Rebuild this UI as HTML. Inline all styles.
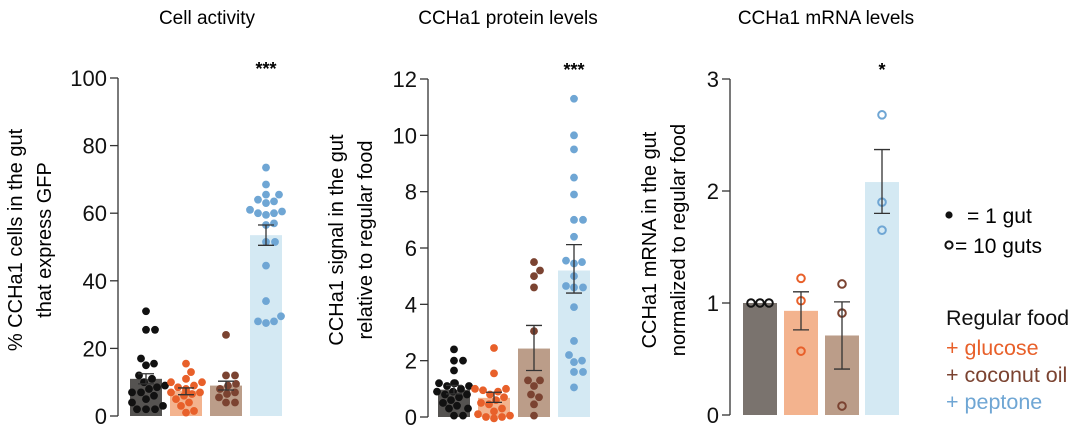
<!DOCTYPE html>
<html><head><meta charset="utf-8"><style>
html,body{margin:0;padding:0;background:#fff;}
svg{display:block;font-family:"Liberation Sans",Arial,sans-serif;}
</style></head><body>
<svg id="chart" width="1080" height="428" viewBox="0 0 1080 428">
<text x="207" y="24" font-size="19" text-anchor="middle">Cell activity</text>
<text x="508" y="24" font-size="19" text-anchor="middle">CCHa1 protein levels</text>
<text x="826" y="24" font-size="19" text-anchor="middle">CCHa1 mRNA levels</text>
<g>
<circle cx="949" cy="215" r="3.6" fill="#111"/>
<text x="967" y="223" font-size="21">= 1 gut</text>
<circle cx="949" cy="245" r="3.6" fill="none" stroke="#111" stroke-width="2"/>
<text x="955" y="253" font-size="21">= 10 guts</text>
<text x="946" y="325" font-size="21.5" fill="#111">Regular food</text>
<text x="946" y="355" font-size="21.5" fill="#e8602a">+ glucose</text>
<text x="946" y="382" font-size="21.5" fill="#7b4331">+ coconut oil</text>
<text x="946" y="409" font-size="21.5" fill="#6fa6d4">+ peptone</text>
</g>
</svg>
<script>
// Panel 1: Cell activity
const p1Ticks = [0,20,40,60,80,100];
const p1Means = [11,7.5,9,53.5];
const p1ErrLo = [9.5,6.3,7.7,50.5];
const p1ErrHi = [12.5,8.3,10.3,56.5];
const p1Pts0 = [31,25.5,25.5,17,15,15.5,12,11,10,9,8.5,8,7,7,6,5,4,3,2,2,2];
const p1Pts1 = [15.5,13,11,10,10,9,8.5,8,7.5,7,7,6.5,6,5,4,3,1,1.5];
const p1Pts2 = [24,12,12,9.5,9,8,7,6.5,5.5,4,4];
const p1Pts3 = [73.5,68.5,65.5,65.5,64,63,63.5,61,60.5,60,60,59.5,57,56.5,51.5,51.5,44.5,34,29.5,28,27.5,28];
const p1Sig = "***";
// Panel 2: protein levels
const p2Ticks = [0,2,4,6,8,10,12];
const p2Means = [0.97,0.68,2.43,5.2];
const p2ErrLo = [0.82,0.52,1.65,4.4];
const p2ErrHi = [1.12,0.88,3.25,6.12];
const p2Pts0 = [2.4,2,2,1.65,1.2,1.2,1.1,1.1,1,0.9,0.8,0.8,0.7,0.6,0.5,0.4,0.3,0.3,0.05,0.05,1.2,0.9];
const p2Pts1 = [2.45,1.55,1,1,0.95,0.9,0.8,0.7,0.6,0.5,0.45,0.3,0.2,0.1,0.05,0,0,-0.05];
const p2Pts2 = [5.5,5.2,5,4.6,3.05,1.3,1.3,1.1,0.8,0.7,0.45,0.05];
const p2Pts3 = [11.3,10,9.5,8.5,7.9,7,7,6.4,5.55,5.5,5.45,5,4.65,4.6,4.6,3.9,2.7,2.2,2,1.95,1.6,1.6,1.05];
const p2Sig = "***";
// Panel 3: mRNA levels
const p3Ticks = [0,1,2,3];
const p3Means = [1,0.93,0.71,2.08];
const p3ErrLo = [1,0.76,0.41,1.8];
const p3ErrHi = [1,1.1,1.01,2.37];
const p3Pts0 = [1,1,1];
const p3Pts1 = [1.22,1.02,0.57];
const p3Pts2 = [1.17,0.91,0.08];
const p3Pts3 = [2.68,1.9,1.65];
const p3Sig = "*";

const svg = document.getElementById('chart');
const NS = 'http://www.w3.org/2000/svg';
function mk(tag, attrs, parent){const e=document.createElementNS(NS,tag);for(const k in attrs)e.setAttribute(k,attrs[k]);(parent||svg).appendChild(e);return e;}

const barCols = ['#555351','#f3b38e','#bb9d89','#d4e9f3'];
const dotCols = ['#111111','#e8602a','#7b4331','#6fa6d4'];
const barNames = ['regular-food','glucose','coconut-oil','peptone'];

function panel(cfg){
  const {id,axisX,y0,y1,vmax,ticks,means,lo,hi,pts,barX,barW,sig,hollow,titleLines,titleX,grayFirst} = cfg;
  const g = mk('g',{});
  
  
  const Y = v => y0 - (v/vmax)*(y0-y1);
  means.forEach((m,i)=>{
    const r = mk('rect',{x:barX[i],y:Y(m),width:barW,height:y0-Y(m),fill:(i===0&&grayFirst)?'#7a736e':barCols[i]},g);
    
    
  });
  pts.forEach((arr,i)=>{
    const cx = barX[i]+barW/2;
    const placed=[];
    const rad = hollow?4:3.9;
    const sorted = arr.slice().sort((a,b)=>a-b);
    sorted.forEach(v=>{
      const cy=Y(v);
      let best=null;
      for(let s=0;s<40;s++){
        const off = (s%2?1:-1)*Math.ceil(s/2)*1.0;
        const x=cx+off;
        if(placed.every(p=>Math.hypot(p[0]-x,p[1]-cy)>=rad*2+0.3)){best=x;break;}
      }
      if(best===null)best=cx;
      placed.push([best,cy]);
      const c = hollow ? mk('circle',{cx:best,cy:cy,r:3.8,fill:'none',stroke:dotCols[i],'stroke-width':2},g)
                       : mk('circle',{cx:best,cy:cy,r:3.9,fill:dotCols[i]},g);
      
      
    });
  });
  means.forEach((m,i)=>{
    if(lo[i]===hi[i])return;
    const cx=barX[i]+barW/2;
    const e=mk('path',{d:`M${cx},${Y(lo[i])}V${Y(hi[i])}M${cx-8},${Y(lo[i])}H${cx+8}M${cx-8},${Y(hi[i])}H${cx+8}`,stroke:'#333',fill:'none','stroke-width':1.3},g);
    
    
  });
  const ax = mk('path',{d:`M${axisX},${Y(vmax)}V${y0}`,stroke:'#333','stroke-width':1.3,fill:'none'},g);
  
  
  ticks.forEach(t=>{
    const tk=mk('path',{d:`M${axisX-8},${Y(t)}H${axisX}`,stroke:'#333','stroke-width':1.3},g);
    
    
    const tl=mk('text',{x:axisX-11,y:Y(t)+8,'font-size':22,'text-anchor':'end',fill:'#111'},g);
    tl.textContent=t;
    
    
  });
  const s=mk('text',{x:barX[3]+barW/2,y:y1-3,'font-size':18,'font-weight':'bold','text-anchor':'middle'},g);
  s.textContent=sig;
  
  
  titleLines.forEach((t,k)=>{
    const tx=titleX[k];
    const tt=mk('text',{x:tx,y:240,'font-size':20,'text-anchor':'middle',transform:`rotate(-90 ${tx} 240)`},g);
    tt.textContent=t;
    
    
  });
}
panel({id:'activity',axisX:118,y0:416,y1:78,vmax:100,ticks:p1Ticks,means:p1Means,lo:p1ErrLo,hi:p1ErrHi,
  pts:[p1Pts0,p1Pts1,p1Pts2,p1Pts3],barX:[130,170,210,250],barW:32,sig:p1Sig,hollow:false,
  titleLines:['% CCHa1 cells in the gut','that express GFP'],titleX:[22,51]});
panel({id:'protein',axisX:428,y0:417,y1:79,vmax:12,ticks:p2Ticks,means:p2Means,lo:p2ErrLo,hi:p2ErrHi,
  pts:[p2Pts0,p2Pts1,p2Pts2,p2Pts3],barX:[438,478,518,558],barW:32,sig:p2Sig,hollow:false,
  titleLines:['CCHa1 signal in the gut','relative to regular food'],titleX:[343,372]});
panel({id:'mrna',axisX:730,y0:415,y1:79,vmax:3,ticks:p3Ticks,means:p3Means,lo:p3ErrLo,hi:p3ErrHi,
  pts:[p3Pts0,p3Pts1,p3Pts2,p3Pts3],barX:[743,784,825,865],barW:34,sig:p3Sig,hollow:true,grayFirst:true,
  titleLines:['CCHa1 mRNA in the gut','normalized to regular food'],titleX:[656,685]});
</script>
</body></html>
